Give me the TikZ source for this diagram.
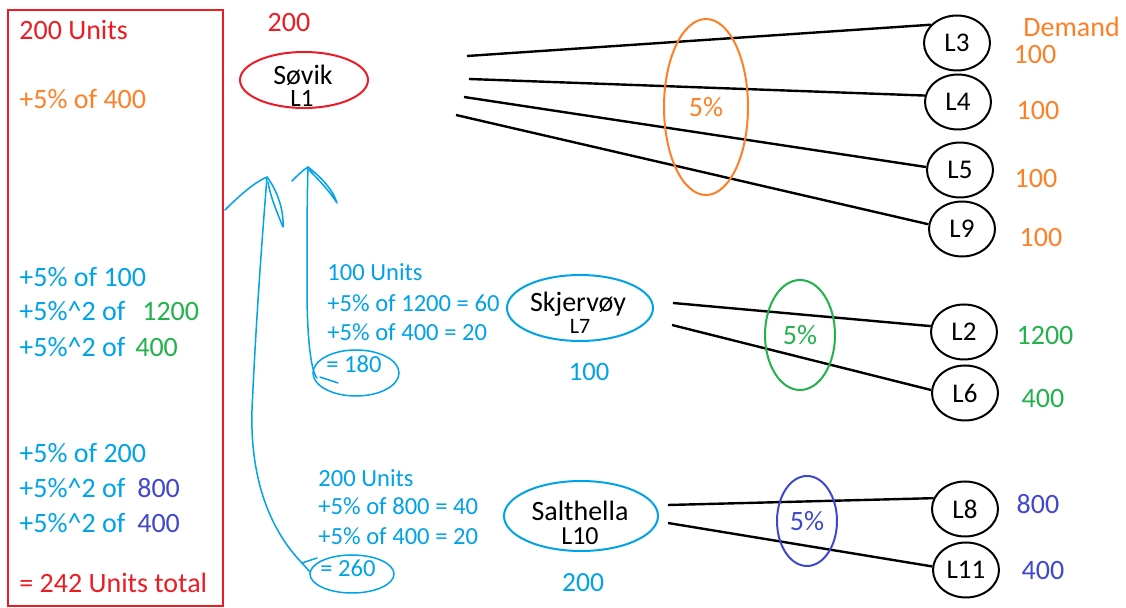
\documentclass[tikz,border=0pt]{standalone}
\usepackage{fontspec}
\setmainfont{Carlito}
\usetikzlibrary{shapes.geometric}
\definecolor{pred}{RGB}{237,28,36}
\definecolor{porange}{RGB}{255,127,39}
\definecolor{pblue}{RGB}{0,162,232}
\definecolor{pgreen}{RGB}{34,177,76}
\definecolor{ppurple}{RGB}{63,72,204}
\begin{document}
\begin{tikzpicture}[x=0.5pt,y=-0.5pt,
  big/.style={font=\fontsize{14}{17}\selectfont},
  note/.style={font=\fontsize{12.3}{15}\selectfont, text=pblue},
  txt/.style={inner sep=0pt, anchor=base west},
  ctxt/.style={inner sep=0pt, anchor=base},
  loc/.style={draw=black, line width=1pt, ellipse, minimum width=33pt, minimum height=27.5pt, inner sep=0pt, font=\fontsize{13.5}{16}\selectfont},
  city/.style={line width=1pt, ellipse, inner sep=0pt},
  ring/.style={line width=1pt, ellipse, inner sep=0pt, font=\fontsize{14}{17}\selectfont},
  link/.style={line width=1.2pt, black},
  hand/.style={pblue, line width=0.75pt, line cap=round, line join=round},
]
\useasboundingbox (0,0) rectangle (1126,608);

% left summary box
\draw[pred, line width=1.1pt] (8,10) rectangle (223,606);
\node[txt, big, text=pred] (b1) at (19,40) {200 Units};
\node[txt, big, text=porange] (b2) at (19,109) {+5\% of 400};
\node[txt, big, text=pblue] (b3) at (19,287) {+5\% of 100};
\node[txt, big, text=pblue] (b4) at (19,321) {+5\%\textasciicircum 2 of\hspace{8.5pt}{\color{pgreen}1200}};
\node[txt, big, text=pblue] (b5) at (19,357) {+5\%\textasciicircum 2 of\hspace{5pt}{\color{pgreen}400}};
\node[txt, big, text=pblue] (b6) at (19,463) {+5\% of 200};
\node[txt, big, text=pblue] (b7) at (19,498) {+5\%\textasciicircum 2 of\hspace{6pt}{\color{ppurple}800}};
\node[txt, big, text=pblue] (b8) at (19,533) {+5\%\textasciicircum 2 of\hspace{6pt}{\color{ppurple}400}};
\node[txt, big, text=pred] (b9) at (19,593) {= 242 Units total};

% Sovik
\node[city, draw=pred, minimum width=64pt, minimum height=28pt] (sovik) at (304,80) {};
\node[ctxt, big] (sovikname) at (303,85) {Søvik};
\node[ctxt, font=\fontsize{12.5}{15}\selectfont] (sovikid) at (302,107) {L1};
\node[ctxt, big, text=pred] (sovikqty) at (289,32) {200};

% Skjervoy
\node[city, draw=pblue, minimum width=73pt, minimum height=33pt] (skj) at (580,308) {};
\node[ctxt, big] (skjname) at (578,312) {Skjervøy};
\node[ctxt, font=\fontsize{11}{13}\selectfont] (skjid) at (580,334) {L7};
\node[ctxt, font=\fontsize{13.3}{16}\selectfont, text=pblue] (skjqty) at (589,381) {100};

% Salthella
\node[city, draw=pblue, minimum width=77pt, minimum height=35pt] (sal) at (581,516) {};
\node[ctxt, big] (salname) at (580,521) {Salthella};
\node[ctxt, font=\fontsize{13}{16}\selectfont] (salid) at (580,545) {L10};
\node[ctxt, font=\fontsize{13.8}{16}\selectfont, text=pblue] (salqty) at (583,592) {200};

% customer locations
\node[loc] (L3) at (957,43) {L3};
\node[loc] (L4) at (958,102) {L4};
\node[loc] (L5) at (960,170) {L5};
\node[loc] (L9) at (962,229) {L9};
\node[loc] (L2) at (964,332) {L2};
\node[loc] (L6) at (965,393) {L6};
\node[loc] (L8) at (965,509) {L8};
\node[loc] (L11) at (966,570) {L11};

% demand labels
\node[txt, big, text=porange] (dem) at (1023,37) {Demand};
\node[ctxt, big, text=porange] (d3) at (1035,64) {100};
\node[ctxt, big, text=porange] (d4) at (1038,120) {100};
\node[ctxt, big, text=porange] (d5) at (1036,188) {100};
\node[ctxt, big, text=porange] (d9) at (1041,247) {100};
\node[ctxt, big, text=pgreen] (d2) at (1045,345) {1200};
\node[ctxt, big, text=pgreen] (d6) at (1043,408) {400};
\node[ctxt, big, text=ppurple] (d8) at (1038,514) {800};
\node[ctxt, big, text=ppurple] (d11) at (1043,580) {400};

% connectors
\coordinate (s1) at (467,56);
\coordinate (s2) at (469,79);
\coordinate (s3) at (464,97);
\coordinate (s4) at (456,115);
\coordinate (k1) at (673,303);
\coordinate (k2) at (672,325);
\coordinate (t1) at (668,505);
\coordinate (t2) at (668,523);
\draw[link] (s1) -- (L3.145);
\draw[link] (s2) -- (L4.169);
\draw[link] (s3) -- (L5.175);
\draw[link] (s4) -- (L9.172);
\draw[link] (k1) -- (L2.170);
\draw[link] (k2) -- (L6.175);
\draw[link] (t1) -- (L8.161);
\draw[link] (t2) -- (L11.174);

% percentage rings
\node[ring, draw=porange, text=porange, minimum width=42pt, minimum height=88pt] (pct1) at (706,107) {5\%};
\node[ring, draw=pgreen, text=pgreen, minimum width=35pt, minimum height=55pt] (pct2) at (800,335) {5\%};
\node[ring, draw=ppurple, text=ppurple, minimum width=30pt, minimum height=45pt] (pct3) at (807,521) {5\%};

% blue notes
\node[txt, note] (n1a) at (327,281) {100 Units};
\node[txt, note] (n1b) at (327,312) {+5\% of 1200 = 60};
\node[txt, note] (n1c) at (327,341) {+5\% of 400 = 20};
\node[txt, note] (n1d) at (326,373) {= 180};
\node[draw=pblue, line width=0.75pt, ellipse, inner sep=0pt, minimum width=43pt, minimum height=23pt] (r1) at (356,373) {};
\node[txt, note] (n2a) at (318,487) {200 Units};
\node[txt, note] (n2b) at (318,515) {+5\% of 800 = 40};
\node[txt, note] (n2c) at (318,545) {+5\% of 400 = 20};
\node[txt, note] (n2d) at (320,577) {= 260};
\node[draw=pblue, line width=0.75pt, ellipse, inner sep=0pt, minimum width=42pt, minimum height=19pt] (r2) at (352,574) {};

% hand-drawn arrows
\coordinate (a1tip) at (267,177);
\coordinate (a1end) at (302,563);
\draw[hand] (a1end) .. controls (268,528) and (250,475) .. (252,410) .. controls (256,320) and (262,240) .. (a1tip);
\draw[hand] (225,210) .. controls (240,195) and (255,182) .. (a1tip) .. controls (277,190) and (284,210) .. (283,227) .. controls (276,210) and (270,195) .. (268,182);
\draw[hand] (317,558) -- (a1end) -- (310,572);

\coordinate (a2tip) at (308,167);
\coordinate (a2end) at (317,378);
\draw[hand] (a2end) .. controls (310,370) and (307,330) .. (307,290) .. controls (307,240) and (307,200) .. (a2tip);
\draw[hand] (292,181) .. controls (297,176) and (303,170) .. (a2tip) .. controls (322,178) and (333,190) .. (337,203) .. controls (331,193) and (320,181) .. (309,170);
\draw[hand] (320,377) -- (338,383);
\end{tikzpicture}
\end{document}
